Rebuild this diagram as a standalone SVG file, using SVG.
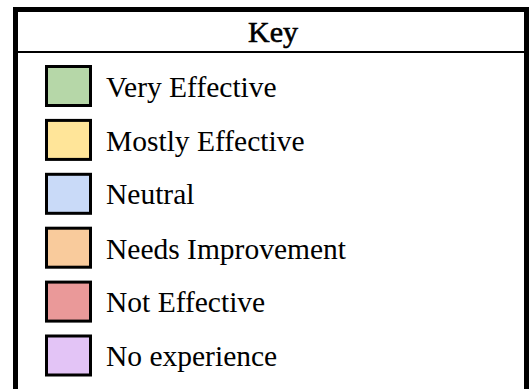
<svg xmlns="http://www.w3.org/2000/svg" width="529" height="389" viewBox="0 0 529 389">
<style>
.sw{stroke:#000;stroke-width:3}
.lbl{font-family:"Liberation Serif","Times New Roman",serif;font-size:29.5px;fill:#000}
.hdr{font-family:"Liberation Serif","Times New Roman",serif;font-size:30px;fill:#000;stroke:#000;stroke-width:0.6}
</style>
<rect width="529" height="389" fill="#fff"/>
<g id="frame">
<rect x="15.5" y="9.5" width="511" height="420" fill="none" stroke="#000" stroke-width="5"/>
<line x1="18" y1="52" x2="526" y2="52" stroke="#000" stroke-width="2"/>
<text class="hdr" x="273" y="42" text-anchor="middle">Key</text>
</g>
<g id="very-effective">
<rect class="sw" x="46.5" y="66.5" width="44" height="39" fill="#b6d7a8"/>
<text class="lbl" x="106" y="97">Very Effective</text>
</g>
<g id="mostly-effective">
<rect class="sw" x="46.5" y="120.4" width="44" height="39" fill="#ffe599"/>
<text class="lbl" x="106" y="150.9">Mostly Effective</text>
</g>
<g id="neutral">
<rect class="sw" x="46.5" y="174.3" width="44" height="39" fill="#c9daf8"/>
<text class="lbl" x="106" y="204.3">Neutral</text>
</g>
<g id="needs-improvement">
<rect class="sw" x="46.5" y="228.2" width="44" height="39" fill="#f9cb9c"/>
<text class="lbl" x="106" y="258.5">Needs Improvement</text>
</g>
<g id="not-effective">
<rect class="sw" x="46.5" y="282.1" width="44" height="39" fill="#ea9999"/>
<text class="lbl" x="106" y="312">Not Effective</text>
</g>
<g id="no-experience">
<rect class="sw" x="46.5" y="336" width="44" height="39" fill="#e3c4f6"/>
<text class="lbl" x="106" y="366">No experience</text>
</g>
<g id="connectors"/>
</svg>
